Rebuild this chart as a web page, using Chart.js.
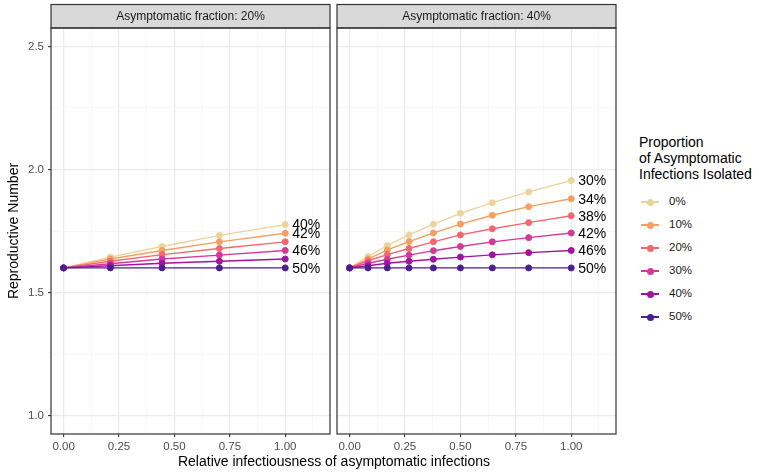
<!DOCTYPE html>
<html lang="en">
<head>
    <meta charset="UTF-8">
    <title>Reproductive Number by Asymptomatic Isolation</title>
    <script src="https://cdn.jsdelivr.net/npm/chart.js"></script>
    <style>
        body { margin: 0; background: #fff; font-family: 'Liberation Sans', Arial, sans-serif; }
        #wrap { position: relative; width: 759px; height: 474px; overflow: hidden; }
        canvas { position: absolute; top: 0; }
        #leftChart { left: 0; }
        #rightChart { left: 332px; }
        #xTitle { position: absolute; left: 134px; width: 400px; top: 453px; text-align: center; font-size: 14px; color: #000; }
        #legend { position: absolute; left: 639px; top: 134px; color: #000; }
        #legend .title { font-size: 14px; line-height: 16px; margin-bottom: 9px; }
        #legend .item { position: relative; height: 23px; }
        #legend .line { position: absolute; left: 2px; top: 10px; width: 18px; height: 1.5px; }
        #legend .dot { position: absolute; left: 7.5px; top: 7.5px; width: 7px; height: 7px; border-radius: 50%; }
        #legend .lbl { position: absolute; left: 30px; top: 4px; font-size: 11.5px; color: #1a1a1a; }
    </style>
</head>
<body>
    <div id="wrap">
        <canvas id="leftChart" width="335" height="474"></canvas>
        <canvas id="rightChart" width="289" height="474"></canvas>
        <div id="xTitle">Relative infectiousness of asymptomatic infections</div>
        <div id="legend">
            <div class="title">Proportion<br>of Asymptomatic<br>Infections Isolated</div>
            <div id="legendItems"></div>
        </div>
    </div>

    <script>
        // Series names and colours (proportion of asymptomatic infections isolated)
        const groups = ['0%', '10%', '20%', '30%', '40%', '50%'];
        const colors = ['#EAD49B', '#F5A062', '#F0696F', '#D4399A', '#A1149E', '#4B1F8F'];

        // Panel 1: asymptomatic fraction 20%
        const leftX = [0, 0.211, 0.444, 0.703, 1.0];
        const left0 = [1.600, 1.644, 1.687, 1.732, 1.776];
        const left10 = [1.600, 1.636, 1.671, 1.706, 1.741];
        const left20 = [1.600, 1.627, 1.654, 1.679, 1.706];
        const left30 = [1.600, 1.617, 1.636, 1.652, 1.671];
        const left40 = [1.600, 1.609, 1.619, 1.627, 1.636];
        const left50 = [1.600, 1.600, 1.600, 1.600, 1.600];
        const leftEndLabels = ['40%', '42%', null, '46%', null, '50%'];

        // Panel 2: asymptomatic fraction 40%
        const rightX = [0, 0.083, 0.17, 0.268, 0.378, 0.5, 0.644, 0.808, 1.0];
        const right0 = [1.600, 1.646, 1.691, 1.734, 1.778, 1.822, 1.865, 1.909, 1.955];
        const right10 = [1.600, 1.636, 1.673, 1.707, 1.742, 1.778, 1.814, 1.849, 1.881];
        const right20 = [1.600, 1.629, 1.654, 1.679, 1.706, 1.734, 1.759, 1.784, 1.812];
        const right30 = [1.600, 1.619, 1.635, 1.652, 1.670, 1.687, 1.706, 1.723, 1.742];
        const right40 = [1.600, 1.609, 1.619, 1.627, 1.635, 1.644, 1.653, 1.662, 1.671];
        const right50 = [1.600, 1.600, 1.600, 1.600, 1.600, 1.600, 1.600, 1.600, 1.600];
        const rightEndLabels = ['30%', '34%', '38%', '42%', '46%', '50%'];

        // Axis ticks
        const xMajorTicks = [0, 0.25, 0.5, 0.75, 1.0];
        const xTickLabels = ['0.00', '0.25', '0.50', '0.75', '1.00'];
        const xMinorTicks = [0.125, 0.375, 0.625, 0.875, 1.125];
        const yMajorTicks = [1.0, 1.5, 2.0, 2.5];
        const yTickLabels = ['1.0', '1.5', '2.0', '2.5'];
        const yMinorTicks = [1.25, 1.75, 2.25];

        const X_MIN = -0.057, X_MAX = 1.202;
        const Y_MIN = 0.925, Y_MAX = 2.575;

        Chart.defaults.font.family = "'Liberation Sans', Arial, sans-serif";

        function findMajor(list, v) {
            return list.findIndex(t => Math.abs(t - v) < 1e-6);
        }

        // strip on top, frame around the panel and text at the end of lines
        const panelPlugin = {
            id: 'panel',
            afterDatasetsDraw(chart, args, opts) {
                const ctx = chart.ctx;
                ctx.save();
                ctx.font = "14px 'Liberation Sans', Arial, sans-serif";
                ctx.fillStyle = '#000';
                ctx.textBaseline = 'middle';
                ctx.textAlign = 'left';
                opts.endLabels.forEach((txt, i) => {
                    if (!txt) return;
                    const meta = chart.getDatasetMeta(i);
                    const pt = meta.data[meta.data.length - 1];
                    ctx.fillText(txt, pt.x + 7, pt.y + 1);
                });
                ctx.restore();
            },
            afterDraw(chart, args, opts) {
                const ctx = chart.ctx;
                const a = chart.chartArea;
                ctx.save();
                ctx.fillStyle = '#D9D9D9';
                ctx.fillRect(a.left, 4.5, a.right - a.left, a.top - 4.5);
                ctx.strokeStyle = '#333333';
                ctx.lineWidth = 1.2;
                ctx.strokeRect(a.left, 4.5, a.right - a.left, a.top - 4.5);
                ctx.strokeRect(a.left, a.top, a.right - a.left, a.bottom - a.top);
                ctx.fillStyle = '#1A1A1A';
                ctx.font = "12px 'Liberation Sans', Arial, sans-serif";
                ctx.textAlign = 'center';
                ctx.textBaseline = 'middle';
                ctx.fillText(opts.title, (a.left + a.right) / 2, (4.5 + a.top) / 2 + 0.5);
                ctx.restore();
            }
        };

        function makeDatasets(xs, seriesList) {
            return seriesList.map((ys, i) => ({
                label: groups[i],
                data: xs.map((x, j) => ({ x: x, y: ys[j] })),
                borderColor: colors[i],
                backgroundColor: colors[i],
                pointBackgroundColor: colors[i],
                pointBorderColor: colors[i],
                borderWidth: 1.4,
                pointRadius: 3,
                pointBorderWidth: 1,
                tension: 0,
                order: seriesList.length - 1 - i
            }));
        }

        function gridColor(ctx, majors) {
            if (!ctx.tick) return '#EBEBEB';
            return findMajor(majors, ctx.tick.value) >= 0 ? '#EBEBEB' : '#F4F4F4';
        }
        function gridWidth(ctx, majors) {
            if (!ctx.tick) return 1;
            return findMajor(majors, ctx.tick.value) >= 0 ? 1.2 : 0.7;
        }
        function tickColor(ctx, majors) {
            if (!ctx.tick) return 'transparent';
            return findMajor(majors, ctx.tick.value) >= 0 ? '#333333' : 'transparent';
        }

        function makeOptions(title, endLabels, isLeft) {
            return {
                responsive: false,
                animation: false,
                layout: { padding: { top: 28, right: 2, left: 0, bottom: 0 } },
                plugins: {
                    legend: { display: false },
                    tooltip: { enabled: false },
                    panel: { title: title, endLabels: endLabels }
                },
                scales: {
                    x: {
                        type: 'linear',
                        min: X_MIN,
                        max: X_MAX,
                        afterBuildTicks: s => {
                            s.ticks = xMajorTicks.concat(xMinorTicks).sort((a, b) => a - b).map(v => ({ value: v }));
                        },
                        afterFit: s => {
                            s.height = 40;
                            s.paddingLeft = 0;
                            s.paddingRight = 0;
                        },
                        border: { display: false },
                        grid: {
                            color: c => gridColor(c, xMajorTicks),
                            lineWidth: c => gridWidth(c, xMajorTicks),
                            tickColor: c => tickColor(c, xMajorTicks),
                            tickLength: 3,
                            tickWidth: 1.1
                        },
                        ticks: {
                            autoSkip: false,
                            maxRotation: 0,
                            padding: 3,
                            color: '#4D4D4D',
                            font: { size: 11.5 },
                            callback: v => {
                                const k = findMajor(xMajorTicks, v);
                                return k >= 0 ? xTickLabels[k] : '';
                            }
                        }
                    },
                    y: {
                        type: 'linear',
                        min: Y_MIN,
                        max: Y_MAX,
                        afterBuildTicks: s => {
                            s.ticks = yMajorTicks.concat(yMinorTicks).sort((a, b) => a - b).map(v => ({ value: v }));
                        },
                        afterFit: s => {
                            s.width = isLeft ? 51 : 0;
                            s.paddingTop = 0;
                            s.paddingBottom = 0;
                        },
                        border: { display: false },
                        title: {
                            display: isLeft,
                            text: 'Reproductive Number',
                            color: '#000',
                            font: { size: 14 },
                            padding: { top: 5.5, bottom: 0 }
                        },
                        grid: {
                            color: c => gridColor(c, yMajorTicks),
                            lineWidth: c => gridWidth(c, yMajorTicks),
                            tickColor: c => tickColor(c, yMajorTicks),
                            drawTicks: isLeft,
                            tickLength: 3,
                            tickWidth: 1.1
                        },
                        ticks: {
                            display: isLeft,
                            autoSkip: false,
                            padding: 4,
                            color: '#4D4D4D',
                            font: { size: 11.5 },
                            callback: v => {
                                const k = findMajor(yMajorTicks, v);
                                return k >= 0 ? yTickLabels[k] : '';
                            }
                        }
                    }
                }
            };
        }

        new Chart(document.getElementById('leftChart').getContext('2d'), {
            type: 'line',
            data: { datasets: makeDatasets(leftX, [left0, left10, left20, left30, left40, left50]) },
            options: makeOptions('Asymptomatic fraction: 20%', leftEndLabels, true),
            plugins: [panelPlugin]
        });

        new Chart(document.getElementById('rightChart').getContext('2d'), {
            type: 'line',
            data: { datasets: makeDatasets(rightX, [right0, right10, right20, right30, right40, right50]) },
            options: makeOptions('Asymptomatic fraction: 40%', rightEndLabels, false),
            plugins: [panelPlugin]
        });

        // legend
        const legendItems = document.getElementById('legendItems');
        legendItems.innerHTML = groups.map((g, i) => `
            <div class="item">
                <span class="line" style="background:${colors[i]}"></span>
                <span class="dot" style="background:${colors[i]}"></span>
                <span class="lbl">${g}</span>
            </div>
        `).join('');
    </script>
</body>
</html>
